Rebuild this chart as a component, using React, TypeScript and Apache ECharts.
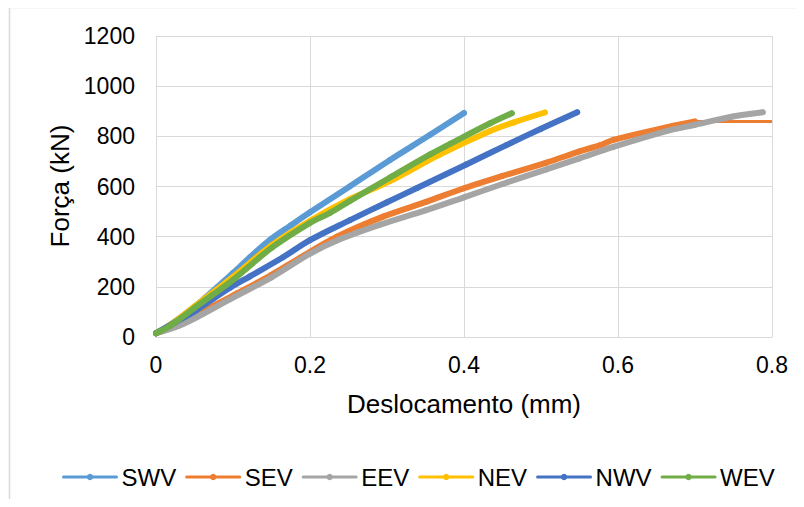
import React, { useEffect, useRef } from "react";
import * as echarts from "echarts";

const seriesNames = ["SWV", "SEV", "EEV", "NEV", "NWV", "WEV"];
const seriesColors = ["#5B9BD5", "#ED7D31", "#A5A5A5", "#FFC000", "#4472C4", "#70AD47"];

// [displacement (mm), force (kN)]
const swv: number[][] = [
  [0, 15], [0.02, 52], [0.05, 120], [0.08, 200], [0.1, 255], [0.122, 318], [0.15, 392],
  [0.175, 445], [0.2, 497], [0.252, 601], [0.304, 706], [0.356, 806], [0.4, 893],
];
const sev: number[][] = [
  [0, 15], [0.03, 50], [0.06, 100], [0.1, 165], [0.15, 248], [0.187, 316], [0.235, 400],
  [0.295, 480], [0.35, 538], [0.399, 592], [0.45, 642], [0.507, 695], [0.55, 740],
  [0.577, 765], [0.594, 786], [0.663, 836], [0.7, 859],
];
const sevTail: number[][] = [
  [0.7, 859], [0.8, 859],
];
const eev: number[][] = [
  [0, 15], [0.03, 45], [0.06, 90], [0.1, 157], [0.15, 238], [0.2, 332], [0.235, 385],
  [0.291, 448], [0.35, 505], [0.399, 556], [0.45, 610], [0.507, 668], [0.55, 712],
  [0.594, 758], [0.663, 821], [0.7, 846], [0.749, 879], [0.788, 896],
];
const nev: number[][] = [
  [0, 15], [0.02, 52], [0.05, 122], [0.1, 240], [0.15, 365], [0.2, 463], [0.252, 550],
  [0.304, 622], [0.369, 728], [0.434, 821], [0.464, 855], [0.505, 895],
];
const nwv: number[][] = [
  [0, 15], [0.025, 58], [0.053, 108], [0.096, 196], [0.122, 242], [0.165, 318],
  [0.2, 386], [0.252, 466], [0.3, 537], [0.339, 594], [0.403, 688], [0.455, 765],
  [0.5, 830], [0.547, 896],
];
const wev: number[][] = [
  [0, 15], [0.02, 48], [0.05, 116], [0.1, 228], [0.15, 355], [0.2, 455], [0.226, 495],
  [0.252, 543], [0.304, 636], [0.356, 728], [0.382, 770], [0.434, 852], [0.462, 892],
];

const xAxisTitle = "Deslocamento (mm)";
const yAxisTitle = "Força (kN)";

const FONT = "'Liberation Sans', Arial, sans-serif";

export default function App() {
  const ref = useRef<HTMLDivElement>(null);
  useEffect(() => {
    if (!ref.current) return;
    const chart = echarts.init(ref.current, undefined, { renderer: "svg" });
    const dataSets = [swv, sev, eev, nev, nwv, wev];
    const series: any[] = dataSets.map((d, i) => ({
      name: seriesNames[i],
      type: "line",
      data: d,
      smooth: 0.35,
      showSymbol: true,
      symbol: "circle",
      symbolSize: 6,
      color: seriesColors[i],
      lineStyle: { width: 6, color: seriesColors[i], cap: "round", join: "round" },
      itemStyle: { color: seriesColors[i] },
      emphasis: { disabled: true },
      z: 2 + i,
    }));
    series.splice(2, 0, {
      name: "SEV",
      type: "line",
      data: sevTail,
      showSymbol: false,
      symbol: "none",
      color: seriesColors[1],
      lineStyle: { width: 3, color: seriesColors[1] },
      emphasis: { disabled: true },
      z: 3,
    });
    chart.setOption({
      animation: false,
      textStyle: { fontFamily: FONT },
      grid: { left: 156, right: 32, top: 36, bottom: 170 },
      xAxis: {
        type: "value",
        min: 0,
        max: 0.8,
        interval: 0.2,
        axisLine: { show: true, lineStyle: { color: "#D9D9D9", width: 1 } },
        axisTick: { show: false },
        splitLine: { show: true, lineStyle: { color: "#D9D9D9", width: 1 } },
        axisLabel: { color: "#000", fontSize: 23, fontFamily: FONT, margin: 16 },
      },
      yAxis: {
        type: "value",
        min: 0,
        max: 1200,
        interval: 200,
        axisLine: { show: true, lineStyle: { color: "#D9D9D9", width: 1 } },
        axisTick: { show: false },
        splitLine: { show: true, lineStyle: { color: "#D9D9D9", width: 1 } },
        axisLabel: {
          color: "#000",
          fontSize: 23,
          fontFamily: FONT,
          margin: 21,
          formatter: (v: number) => String(v),
        },
      },
      legend: {
        data: seriesNames,
        left: 57,
        top: 460,
        itemWidth: 53,
        itemHeight: 8,
        itemGap: 9,
        lineStyle: { width: 3 },
        textStyle: { color: "#000", fontSize: 24, fontFamily: FONT },
      },
      graphic: [
        {
          type: "rect",
          shape: { x: 9.5, y: 7.5, width: 900, height: 700 },
          style: { fill: "none", stroke: "#D9D9D9", lineWidth: 1.5 },
          silent: true,
          z: -10,
        },
        {
          type: "text",
          x: 464,
          y: 404,
          style: {
            text: xAxisTitle,
            fill: "#000",
            font: `26px ${FONT}`,
            align: "center",
            verticalAlign: "middle",
          },
        },
        {
          type: "text",
          x: 60,
          y: 186,
          rotation: Math.PI / 2,
          style: {
            text: yAxisTitle,
            fill: "#000",
            font: `26px ${FONT}`,
            align: "center",
            verticalAlign: "middle",
          },
        },
      ],
      series,
    });
    return () => chart.dispose();
  }, []);
  return <div ref={ref} style={{ width: 804, height: 507, margin: -8, background: "#fff" }} />;
}
